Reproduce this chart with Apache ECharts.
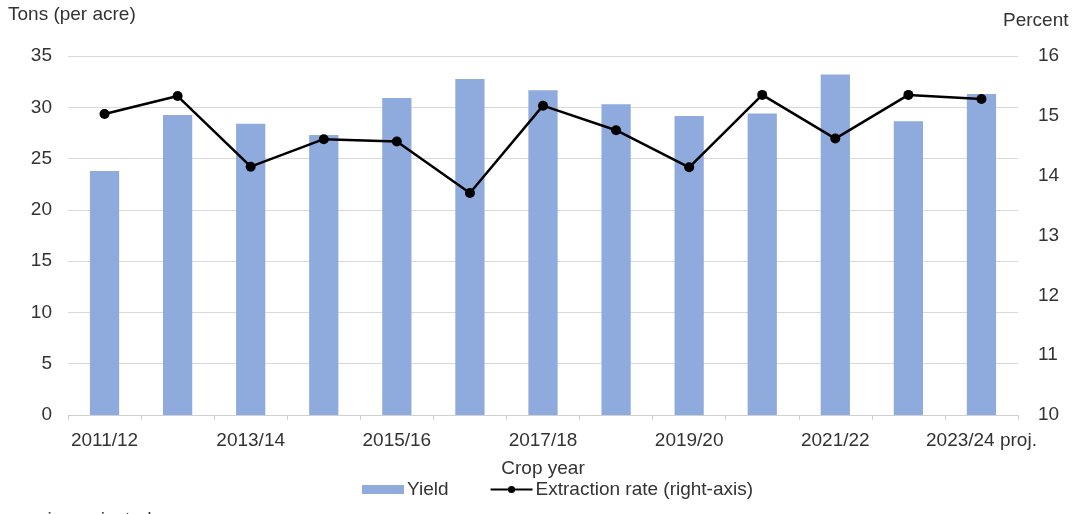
<!DOCTYPE html>
<html>
<head>
<meta charset="utf-8">
<style>
  html, body { margin: 0; padding: 0; background: #fff; }
  #chart { width: 1074px; height: 514px; }
</style>
<script src="https://cdn.jsdelivr.net/npm/echarts@6/dist/echarts.min.js"></script>
</head>
<body>
<div id="chart"></div>
<script>
// Crop years (2023/24 is a projection)
const cropYears = ['2011/12', '2012/13', '2013/14', '2014/15', '2015/16', '2016/17', '2017/18',
                   '2018/19', '2019/20', '2020/21', '2021/22', '2022/23', '2023/24 proj.'];
// Sugarbeet yield, tons per acre
const yieldTons = [23.8, 29.25, 28.4, 27.3, 30.9, 32.75, 31.65, 30.3, 29.15, 29.4, 33.2, 28.65, 31.3];
// Sugar extraction rate, percent
const extractionRate = [15.03, 15.33, 14.15, 14.61, 14.57, 13.71, 15.17, 14.76, 14.14, 15.35, 14.62, 15.35, 15.28];

const FONT = 'Liberation Sans, Arial, sans-serif';
const TEXT = '#333333';
const FS = 19;

const chart = echarts.init(document.getElementById('chart'));
chart.setOption({
  animation: false,
  textStyle: { fontFamily: FONT },
  grid: { left: 68, right: 56, top: 56, bottom: 99, containLabel: false },
  legend: {
    top: 475,
    left: 357,
    itemGap: 41,
    itemWidth: 42,
    itemHeight: 9,
    textStyle: { fontSize: FS, color: TEXT, fontFamily: FONT, padding: [0, 0, 0, -2] },
    data: [
      { name: 'Yield', icon: 'rect' },
      { name: 'Extraction rate (right-axis)' }
    ]
  },
  xAxis: {
    type: 'category',
    data: cropYears,
    name: 'Crop year',
    nameLocation: 'middle',
    nameGap: 44,
    nameTextStyle: { fontSize: FS, color: TEXT },
    axisLine: { lineStyle: { color: '#d0d0d0', width: 1 } },
    axisTick: { show: true, interval: 0, length: 5, lineStyle: { color: '#d0d0d0' } },
    axisLabel: { interval: 1, fontSize: FS, color: TEXT, margin: 16 }
  },
  yAxis: [
    {
      type: 'value',
      min: 0, max: 35, interval: 5,
      name: 'Tons (per acre)',
      nameLocation: 'end',
      nameGap: 0,
      nameTextStyle: { fontSize: FS, color: TEXT, align: 'left', padding: [0, 0, 32, -60] },
      axisLine: { show: false },
      axisTick: { show: false },
      axisLabel: { fontSize: FS, color: TEXT, margin: 16 },
      splitLine: { lineStyle: { color: '#d9d9d9', width: 1 } }
    },
    {
      type: 'value',
      min: 10, max: 16, interval: 1,
      name: 'Percent',
      nameLocation: 'end',
      nameGap: 0,
      nameTextStyle: { fontSize: FS, color: TEXT, align: 'left', padding: [0, 0, 26, -15] },
      axisLine: { show: false },
      axisTick: { show: false },
      axisLabel: { fontSize: FS, color: TEXT, margin: 20 },
      splitLine: { show: false }
    }
  ],
  series: [
    {
      name: 'Yield',
      type: 'bar',
      yAxisIndex: 0,
      data: yieldTons,
      barWidth: '40%',
      itemStyle: { color: '#8FAADC' }
    },
    {
      name: 'Extraction rate (right-axis)',
      type: 'line',
      yAxisIndex: 1,
      data: extractionRate,
      symbol: 'circle',
      symbolSize: 10,
      lineStyle: { color: '#000000', width: 2.5 },
      itemStyle: { color: '#000000' }
    }
  ],
  graphic: [
    {
      type: 'text',
      left: 20,
      top: 510,
      style: { text: 'proj = projected', fontSize: FS, fill: TEXT, fontFamily: FONT }
    }
  ]
});
</script>
</body>
</html>
